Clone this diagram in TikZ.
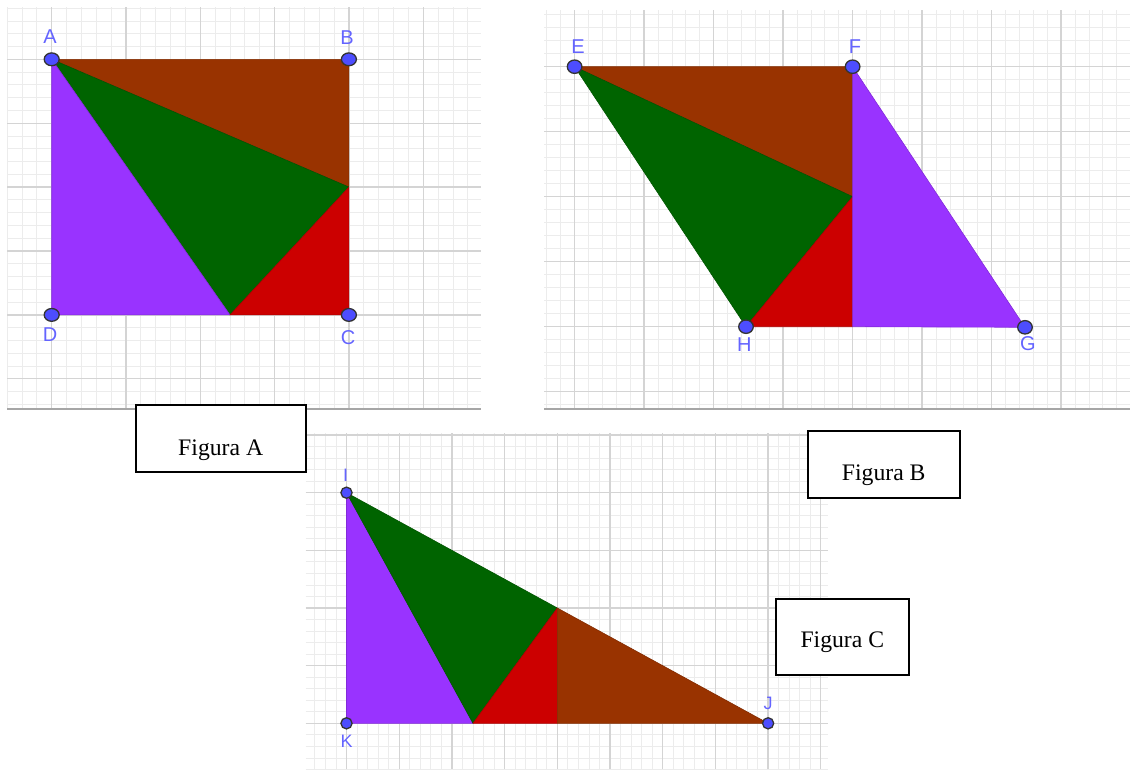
\documentclass[tikz,border=0pt]{standalone}
\usepackage{fontspec}
\setmainfont{Liberation Serif}
\newfontfamily\geofont{Liberation Sans}
\usetikzlibrary{positioning,calc}

\definecolor{ggbrown}{RGB}{153,51,0}
\definecolor{gggreen}{RGB}{0,100,0}
\definecolor{ggred}{RGB}{204,0,0}
\definecolor{ggpurple}{RGB}{153,51,255}
\definecolor{ggpoint}{RGB}{77,77,255}
\definecolor{gglabel}{RGB}{100,100,255}
\definecolor{majorgrid}{RGB}{212,212,212}
\definecolor{minorgrid}{RGB}{236,236,236}

\tikzset{
  minorline/.style={minorgrid,line width=0.8pt},
  majorline/.style={majorgrid,line width=1.3pt},
  rim/.style={gray!70,line width=1.4pt},
  piece/.style={draw=#1!85!black,fill=#1,line width=0.6pt,line join=round},
  pt/.style={draw=black!80,fill=ggpoint,line width=1.3pt},
  lbl/.style={text=gglabel,font=\geofont\fontsize{20}{20}\selectfont,inner sep=0pt},
  lblsmall/.style={lbl,font=\geofont\fontsize{18}{18}\selectfont},
  figbox/.style={draw=black,fill=white,line width=2pt,text depth=0pt,inner sep=0pt,font=\fontsize{23.7}{26}\selectfont}
}

\begin{document}
\begin{tikzpicture}[x=1pt,y=-1pt]
\useasboundingbox (0,0) rectangle (1130,769);

% grid of Figura A
\begin{scope}
\clip (7,7) rectangle (481,409);
\foreach \i in {-3,...,29} \draw[minorline] ({51.7+14.86*\i},7) -- ({51.7+14.86*\i},409);
\foreach \j in {-4,...,28} \draw[minorline] (7,{59.3+12.78*\j}) -- (481,{59.3+12.78*\j});
\foreach \i in {0,...,5} \draw[majorline] ({51.7+74.3*\i},7) -- ({51.7+74.3*\i},409);
\foreach \j in {0,...,5} \draw[majorline] (7,{59.3+63.9*\j}) -- (481,{59.3+63.9*\j});
\end{scope}
\draw[rim] (7,409) -- (481,409);

% grid of Figura B
\begin{scope}
\clip (544,10) rectangle (1130,409);
\foreach \i in {-3,...,41} \draw[minorline] ({574.6+13.9*\i},10) -- ({574.6+13.9*\i},409);
\foreach \j in {-5,...,27} \draw[minorline] (544,{66.7+13*\j}) -- (1130,{66.7+13*\j});
\foreach \i in {0,...,8} \draw[majorline] ({574.6+69.5*\i},10) -- ({574.6+69.5*\i},409);
\foreach \j in {0,...,5} \draw[majorline] (544,{66.7+65*\j}) -- (1130,{66.7+65*\j});
\end{scope}
\draw[rim] (544,409) -- (1130,409);

% grid of Figura C
\begin{scope}
\clip (305.7,433) rectangle (828.3,769);
\foreach \i in {-4,...,46} \draw[minorline] ({346.5+10.54*\i},433) -- ({346.5+10.54*\i},769);
\foreach \j in {-6,...,24} \draw[minorline] (305.7,{492.7+11.53*\j}) -- (828.3,{492.7+11.53*\j});
\foreach \i in {0,...,9} \draw[majorline] ({346.5+52.7*\i},433) -- ({346.5+52.7*\i},769);
\foreach \j in {-1,...,4} \draw[majorline] (305.7,{492.7+57.65*\j}) -- (828.3,{492.7+57.65*\j});
\end{scope}

% Figura A
\coordinate (A) at (51.7,59.3);
\coordinate (B) at (348.9,59.3);
\coordinate (C) at (348.9,314.9);
\coordinate (D) at (51.7,314.9);
\coordinate (MA) at (348.9,187.1);
\coordinate (PA) at (230,314.9);
\path[piece=ggbrown] (A) -- (B) -- (MA) -- cycle;
\path[piece=gggreen] (A) -- (PA) -- (MA) -- cycle;
\path[piece=ggpurple] (A) -- (D) -- (PA) -- cycle;
\path[piece=ggred] (PA) -- (C) -- (MA) -- cycle;
\foreach \p in {A,B,C,D} \draw[pt] (\p) ellipse[x radius=7.5,y radius=6.4];
\node[lbl] (lA) at (50,37) {A};
\node[lbl] (lB) at (347,38) {B};
\node[lbl] (lC) at (348,338) {C};
\node[lbl] (lD) at (50,335) {D};

% Figura B
\coordinate (E) at (574.6,66.7);
\coordinate (F) at (852.6,66.7);
\coordinate (G) at (1025,327.3);
\coordinate (H) at (746,326.7);
\coordinate (QB) at (852.6,326.7);
\coordinate (MB) at (852.6,196.7);
\path[piece=ggbrown] (E) -- (F) -- (MB) -- cycle;
\path[piece=gggreen] (E) -- (H) -- (MB) -- cycle;
\path[piece=ggred] (H) -- (QB) -- (MB) -- cycle;
\path[piece=ggpurple] (F) -- (QB) -- (G) -- cycle;
\foreach \p in {E,F,G,H} \draw[pt] (\p) ellipse[x radius=7.3,y radius=6.7];
\node[lbl] (lE) at (578,47) {E};
\node[lbl] (lF) at (855,47) {F};
\node[lbl] (lG) at (1028,344) {G};
\node[lbl] (lH) at (744.3,344.3) {H};

% Figura C
\coordinate (I) at (346.5,492.7);
\coordinate (J) at (768.1,723.3);
\coordinate (K) at (346.5,723.3);
\coordinate (PC) at (473,723.3);
\coordinate (QC) at (557.3,723.3);
\coordinate (MC) at (557.3,608);
\path[piece=ggpurple] (I) -- (K) -- (PC) -- cycle;
\path[piece=gggreen] (I) -- (PC) -- (MC) -- cycle;
\path[piece=ggred] (PC) -- (QC) -- (MC) -- cycle;
\path[piece=ggbrown] (MC) -- (QC) -- (J) -- cycle;
\foreach \p in {I,J,K} \draw[pt] (\p) circle[radius=5.6];
\node[lblsmall] (lI) at (345.5,475.3) {I};
\node[lblsmall] (lJ) at (768,703) {J};
\node[lblsmall] (lK) at (346.5,741.7) {K};

% captions
\node[figbox,minimum width=170pt,minimum height=67.3pt,text height=32.6pt] (figA) at (220.7,438.7) {Figura A};
\node[figbox,minimum width=152pt,minimum height=67pt,text height=31.6pt] (figB) at (883.7,464.2) {Figura B};
\node[figbox,minimum width=133.3pt,minimum height=76.3pt,text height=21.6pt] (figC) at (842.3,636.8) {Figura C};
\end{tikzpicture}
\end{document}
